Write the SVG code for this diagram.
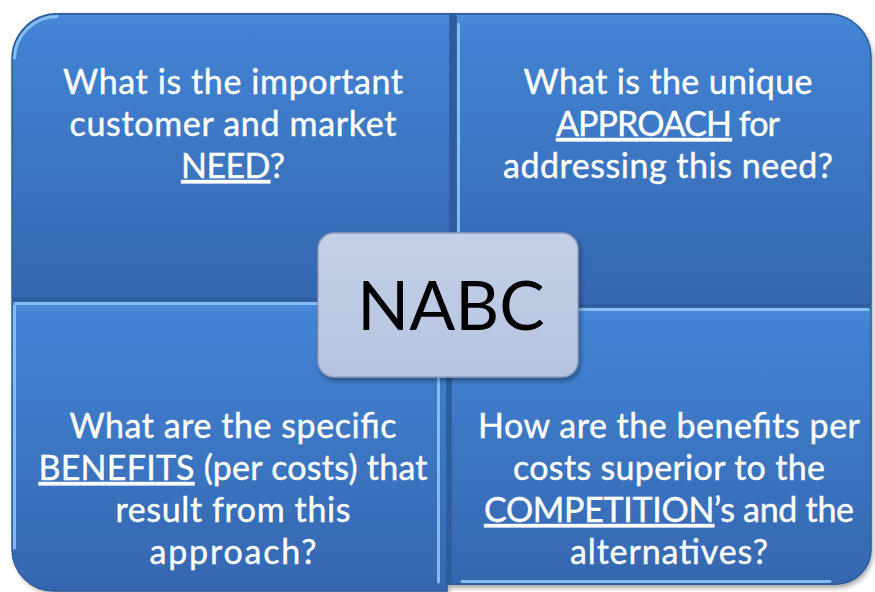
<svg xmlns="http://www.w3.org/2000/svg" width="875" height="592" viewBox="0 0 875 592">
  <defs>
    <linearGradient id="quadFill" x1="0" y1="0" x2="0" y2="1">
      <stop offset="0" stop-color="#4B8BDA"/>
      <stop offset="0.05" stop-color="#4283D3"/>
      <stop offset="1" stop-color="#3567B0"/>
    </linearGradient>
    <linearGradient id="hubFill" x1="0" y1="0" x2="0" y2="1">
      <stop offset="0" stop-color="#C4D0E8"/>
      <stop offset="1" stop-color="#B6C4E0"/>
    </linearGradient>
    <filter id="shadow" x="-5%" y="-5%" width="110%" height="110%">
      <feDropShadow dx="2" dy="3" stdDeviation="2.5" flood-color="#000" flood-opacity="0.35"/>
    </filter>
    <style>
      .quad { fill: url(#quadFill); stroke: #2F5C9C; stroke-width: 1.5; }
      .hi { stroke: #8CC4F4; stroke-width: 3; fill: none; stroke-linecap: round; opacity: 0.9; }
      .lbl { font-family: "Lato", "Liberation Sans", sans-serif; font-size: 34px; fill: #FFFFFF; text-anchor: middle; stroke: #FFFFFF; stroke-width: 0.4; }
      .u { text-decoration: underline; }
      .hub { fill: url(#hubFill); stroke: #8E9DBB; stroke-width: 1.5; }
      .hubtxt { font-family: "Lato", "Liberation Sans", sans-serif; font-size: 68px; fill: #000000; text-anchor: middle; }
    </style>
  </defs>

  <!-- dark backing that shows as the dividers between the quadrants -->
  <g filter="url(#shadow)">
    <path d="M57,13 H827 A44,44 0 0 1 871,57 V549 A36,36 0 0 1 835,585 H447 V591 H54 A42,42 0 0 1 12,549 V57 A45,45 0 0 1 57,13 Z" fill="#2F5C9C"/>
  </g>

  <g id="need">
    <path class="quad" d="M57,14 H450 V299 H12 V59 A45,45 0 0 1 57,14 Z"/>
    <path class="hi" d="M14.5,58 A43,43 0 0 1 57,16.5" opacity="0.5"/>
    <text class="lbl" x="233" y="94" textLength="340">What is the important</text>
    <text class="lbl" x="233" y="136" textLength="327">customer and market</text>
    <text class="lbl" x="233" y="178" textLength="104"><tspan class="u">NEED</tspan>?</text>
  </g>

  <g id="approach">
    <path class="quad" d="M456,14 H828 A43,43 0 0 1 871,57 V305 H456 Z"/>
    <path class="hi" d="M458.5,24 V296"/>
    <text class="lbl" x="668" y="94" textLength="289">What is the unique</text>
    <text class="lbl" x="668" y="136" textLength="224"><tspan class="u">APPROACH</tspan> for</text>
    <text class="lbl" x="668" y="178" textLength="330">addressing this need?</text>
  </g>

  <g id="benefits">
    <path class="quad" d="M12,301 H447 V591 H54 A42,42 0 0 1 12,549 Z"/>
    <path class="hi" d="M16,303.5 H440"/>
    <path class="hi" d="M14.5,306 V548" opacity="0.6"/>
    <path class="hi" d="M438.5,310 V582"/>
    <text class="lbl" x="233" y="438" textLength="327">What are the specific</text>
    <text class="lbl" x="233" y="480" textLength="389"><tspan class="u">BENEFITS</tspan> (per costs) that</text>
    <text class="lbl" x="233" y="522" textLength="235">result from this</text>
    <text class="lbl" x="233" y="564" textLength="167">approach?</text>
  </g>

  <g id="competition">
    <path class="quad" d="M451,307 H871 V549 A35,35 0 0 1 836,584 H451 Z"/>
    <path class="hi" d="M456,309.5 H868"/>
    <path class="hi" d="M462,581.5 H830" opacity="0.6"/>
    <text class="lbl" x="669" y="438" textLength="382">How are the benefits per</text>
    <text class="lbl" x="669" y="480" textLength="312">costs superior to the</text>
    <text class="lbl" x="669" y="522" textLength="370"><tspan class="u">COMPETITION</tspan>’s and the</text>
    <text class="lbl" x="669" y="564" textLength="198">alternatives?</text>
  </g>

  <g id="nabc" filter="url(#shadow)">
    <rect class="hub" x="318" y="233" width="260" height="144" rx="16" ry="16"/>
    <text class="hubtxt" x="451" y="330">NABC</text>
  </g>
</svg>
